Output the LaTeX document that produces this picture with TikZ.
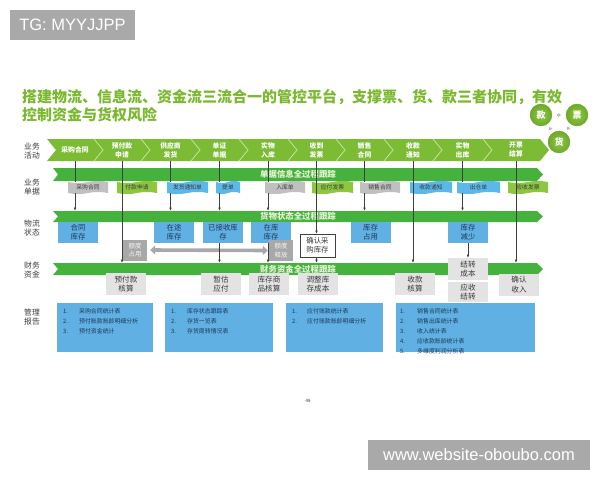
\documentclass[tikz,border=0pt]{standalone}
\usepackage{fontspec}
\setmainfont{Noto Sans CJK SC}
\newfontfamily\wmfont{Liberation Sans}
\usetikzlibrary{arrows.meta,shapes.symbols,calc}
\definecolor{titlegreen}{HTML}{7AB82E}
\definecolor{chevgreen}{HTML}{7CBB34}
\definecolor{chevline}{HTML}{C4E39C}
\definecolor{bandgreen}{HTML}{46B23E}
\definecolor{bandtext}{HTML}{E6F4D6}
\definecolor{boxblue}{HTML}{60B0E3}
\definecolor{navy}{HTML}{1D3957}
\definecolor{tgray}{HTML}{C0C0C0}
\definecolor{tgreen}{HTML}{8DC63F}
\definecolor{tblue}{HTML}{5CB8E8}
\definecolor{fgray}{HTML}{E3E3E3}
\definecolor{qgray}{HTML}{A8A8A8}
\definecolor{wmgray}{HTML}{A9A9A9}
\definecolor{lbl}{HTML}{3A3A3A}
\definecolor{arrowc}{HTML}{3F3F3F}
\definecolor{circin}{HTML}{8FC743}
\definecolor{circout}{HTML}{6CA628}
\tikzset{
  chevnode/.style={inner sep=0pt, minimum height=22pt, text=white, align=center,
    font=\fontsize{6.8}{9}\selectfont\bfseries},
  chevfill/.style={fill=chevgreen},
  sepline/.style={draw=chevline, line width=0.8pt},
  bandfill/.style={fill=bandgreen},
  bandnode/.style={inner sep=0pt, minimum width=490pt, text=bandtext,
    font=\fontsize{8.4}{9}\selectfont\bfseries},
  doctag/.style={tape, tape bend top=in and out, tape bend bottom=in and out,
    tape bend height=2pt, inner sep=0pt, minimum height=13pt, text=lbl,
    font=\fontsize{5.8}{6}\selectfont},
  rowlbl/.style={align=center, text=lbl, font=\fontsize{7.8}{9.5}\selectfont},
  bluebox/.style={fill=boxblue, inner sep=0pt, minimum width=40pt, minimum height=21pt,
    align=center, text=navy, font=\fontsize{7.4}{9}\selectfont},
  whitebox/.style={fill=white, draw=black!75, line width=0.5pt, inner sep=0pt,
    minimum width=35pt, minimum height=23pt, align=center, text=lbl,
    font=\fontsize{7.4}{9}\selectfont},
  quotabox/.style={fill=qgray, inner sep=0pt, minimum width=24pt, minimum height=21pt,
    align=center, text=white!92!gray, font=\fontsize{6.4}{8.5}\selectfont},
  finbox/.style={fill=fgray, inner sep=0pt, minimum width=40pt, minimum height=22pt,
    align=center, text=lbl, font=\fontsize{7.6}{9.5}\selectfont},
  repbox/.style={fill=boxblue, inner sep=0pt, minimum height=49pt, anchor=north west},
  reptext/.style={anchor=north west, inner sep=0pt, text=navy,
    font=\fontsize{5.9}{10}\selectfont},
  circ/.style={circle, inner color=circin, outer color=circout, draw=white,
    line width=1.3pt, minimum size=24pt, inner sep=0pt, text=white,
    font=\fontsize{9}{9}\selectfont\bfseries},
  carr/.style={draw=gray!55, line width=1.4pt, -{Triangle[length=2.6pt,width=4.2pt]},
    shorten <=3.5pt, shorten >=3.5pt},
  ln/.style={draw=arrowc, line width=0.55pt},
  arr/.style={draw=arrowc, line width=0.55pt, -{Latex[length=3.2pt,width=2.6pt]}},
  wm/.style={fill=wmgray, text=white, inner sep=0pt, minimum height=30pt,
    font=\wmfont\fontsize{16.5}{16.5}\selectfont},
}
\newcommand\chevron[4]{%
  \path[chevfill] (#2,139) -- ({#3-9},139) -- (#3,150) -- ({#3-9},161) -- (#2,161) -- ({#2+9},150) -- cycle;
  \node[chevnode, minimum width={#3-#2}] (#1) at ({(#2+#3)/2},150) {#4};}
\newcommand\flowband[4]{%
  \path[bandfill] (53,#2) -- (537,#2) -- (543,{(#2+#3)/2}) -- (537,#3) -- (53,#3) -- (58,{(#2+#3)/2}) -- cycle;
  \node[bandnode, minimum height={#3-#2}] (#1) at (298,{(#2+#3)/2}) {#4};}
\begin{document}
\begin{tikzpicture}[x=1pt,y=-1pt]
\path[use as bounding box, fill=white] (0,0) rectangle (600,480);
% watermarks
\node[wm, minimum width=125pt] (wmtop) at (72.5,25) {TG: MYYJJPP};
\node[wm, minimum width=222pt] (wmbot) at (479,455) {www.website-oboubo.com};
% title
\node[anchor=north west, align=left, text=titlegreen, inner sep=0pt,
  font=\fontsize{15}{18}\selectfont\bfseries] (title) at (22,89)
  {搭建物流、信息流、资金流三流合一的管控平台，支撑票、货、款三者协同，有效\\控制资金与货权风险};
% circles
\node[circ] (kuan) at (541,115) {款};
\node[circ] (piao) at (577,115) {票};
\node[circ] (huo) at (559,142) {货};
\draw[carr] (kuan) -- (piao);
\draw[carr, shorten <=2pt, shorten >=2pt] (piao) -- (huo);
\draw[carr, shorten <=2pt, shorten >=2pt] (huo) -- (kuan);
% row labels
\node[rowlbl] (l1) at (32,151) {业务\\活动};
\node[rowlbl] (l2) at (32,187) {业务\\单据};
\node[rowlbl] (l3) at (32,228) {物流\\状态};
\node[rowlbl] (l4) at (32,270) {财务\\资金};
\node[rowlbl] (l5) at (32,317) {管理\\报告};
% chevrons
\chevron{c1}{47}{103}{采购合同}
\chevron{c2}{94}{150}{预付款\\申请}
\chevron{c3}{141}{200}{供应商\\发货}
\chevron{c4}{191}{248}{单证\\单据}
\chevron{c5}{239}{297}{实物\\入库}
\chevron{c6}{288}{345}{收到\\发票}
\chevron{c7}{336}{393}{销售\\合同}
\chevron{c8}{384}{442}{收款\\通知}
\chevron{c9}{433}{492}{实物\\出库}
\chevron{c10}{483}{549}{开票\\结算}
\foreach \x in {103,150,200,248,297,345,393,442,492}
  \draw[sepline] ({\x-9},139) -- (\x,150) -- ({\x-9},161);
% bands
\flowband{b1}{168}{181}{单据信息全过程跟踪}
\flowband{b2}{211}{222}{货物状态全过程跟踪}
\flowband{b3}{263}{275}{财务资金全过程跟踪}
% document tags
\node[doctag, fill=tgray,  minimum width=40pt] (t1) at (88,187.5) {采购合同};
\node[doctag, fill=tgreen, minimum width=40pt] (t2) at (137,187.5) {付款申请};
\node[doctag, fill=tblue,  minimum width=41pt] (t3) at (187.5,187.5) {发货通知单};
\node[doctag, fill=tblue,  minimum width=24pt] (t4) at (228,187.5) {提单};
\node[doctag, fill=tgray,  minimum width=40pt] (t5) at (285,187.5) {入库单};
\node[doctag, fill=tgreen, minimum width=41pt] (t6) at (332.5,187.5) {应付发票};
\node[doctag, fill=tgray,  minimum width=40pt] (t7) at (380,187.5) {销售合同};
\node[doctag, fill=tblue,  minimum width=42pt] (t8) at (431,187.5) {收款通知};
\node[doctag, fill=tblue,  minimum width=43pt] (t9) at (478.5,187.5) {出仓单};
\node[doctag, fill=tgreen, minimum width=40pt] (t10) at (528,187.5) {应收发票};
% logistics boxes
\node[bluebox] (n1) at (78,232.5) {合同\\库存};
\node[bluebox] (n2) at (174,232.5) {在途\\库存};
\node[bluebox] (n3) at (223,232.5) {已接收库\\存};
\node[bluebox] (n4) at (271,232.5) {在库\\库存};
\node[whitebox] (n5) at (317.5,245.5) {确认采\\购库存};
\node[bluebox] (n6) at (370.5,232.5) {库存\\占用};
\node[bluebox] (n7) at (468,232.5) {库存\\减少};
% quota boxes
\node[quotabox] (q1) at (135,250) {额度\\占用};
\node[quotabox] (q2) at (281,250.5) {额度\\释放};
\draw[draw=qgray, line width=3.6pt, {Triangle[length=5pt,width=9pt]}-{Triangle[length=5pt,width=9pt]}]
  ([xshift=3pt]q1.east) -- ([xshift=-1pt]q2.west);
% finance boxes
\node[finbox] (g1) at (126,284) {预付款\\核算};
\node[finbox] (g2) at (221,284) {暂估\\应付};
\node[finbox] (g3) at (269,284) {库存商\\品核算};
\node[finbox] (g4) at (318,284) {调整库\\存成本};
\node[finbox] (g5) at (415,284) {收款\\核算};
\node[finbox] (g6) at (468,269) {结转\\成本};
\node[finbox, minimum height=20pt] (g7) at (468,292) {应收\\结转};
\node[finbox] (g8) at (519,284.5) {确认\\收入};
% report boxes
\node[repbox, minimum width=96pt] (r1) at (57,303) {};
\node[repbox, minimum width=108pt] (r2) at (165,303) {};
\node[repbox, minimum width=97pt] (r3) at (286,303) {};
\node[repbox, minimum width=139pt] (r4) at (396,303) {};
\node[reptext] (r1t) at ($(r1.north west)+(6,3)$) {\begin{tabular}{@{}p{16pt}@{}l@{}}1. & 采购合同统计表\\ 2. & 预付账款账龄明细分析\\ 3. & 预付资金统计\end{tabular}};
\node[reptext] (r2t) at ($(r2.north west)+(6,3)$) {\begin{tabular}{@{}p{16pt}@{}l@{}}1. & 库存状态跟踪表\\ 2. & 存货一览表\\ 3. & 存货周转情况表\end{tabular}};
\node[reptext] (r3t) at ($(r3.north west)+(6,3)$) {\begin{tabular}{@{}p{15pt}@{}l@{}}1. & 应付账款统计表\\ 2. & 应付账款账龄明细分析\end{tabular}};
\node[reptext] (r4t) at ($(r4.north west)+(4,3)$) {\begin{tabular}{@{}p{17pt}@{}l@{}}1. & 销售合同统计表\\ 2. & 销售出库统计表\\ 3. & 收入统计表\\ 4. & 应收款账龄统计表\\ 5. & 多维度利润分析表\end{tabular}};
% page number
\node[text=lbl, font=\fontsize{4.5}{5}\selectfont] (pg) at (308,401) {48};
% connectors
\draw[ln] (c1.south) -- (c1.south |- t1.north);
\draw[arr] (c1.south |- t1.south) -- (c1.south |- b2.north);
\draw[arr] (c2.south) -- (c2.south |- b3.north);
\draw[ln] (c3.south) -- (c3.south |- t3.north);
\draw[arr] (c3.south |- t3.south) -- (c3.south |- b2.north);
\draw[ln] (c4.south) -- (c4.south |- t4.north);
\draw[arr] (c4.south |- t4.south) -- (c4.south |- b2.north);
\draw[ln] (c5.south) -- (c5.south |- t5.north);
\draw[arr] (c5.south |- t5.south) -- (c5.south |- b2.north);
\draw[arr] (c6.south) -- (c6.south |- n5.north);
\draw[arr] (c6.south |- n5.south) -- (c6.south |- b3.north);
\draw[ln] (c7.south) -- (c7.south |- t7.north);
\draw[arr] (c7.south |- t7.south) -- (c7.south |- b2.north);
\draw[arr] (c8.south) -- (c8.south |- b3.north);
\draw[ln] (c9.south) -- (c9.south |- t9.north);
\draw[arr] (c9.south |- t9.south) -- (c9.south |- b2.north);
\draw[arr] (c10.south) -- (c10.south |- b3.north);
\draw[arr] (c4.south |- n3.south) -- (c4.south |- b3.north);
\draw[arr] (c5.south |- n4.south) -- (c5.south |- b3.north);
\draw[arr] (n7.south) -- (n7.south |- g6.north);
\end{tikzpicture}
\end{document}
